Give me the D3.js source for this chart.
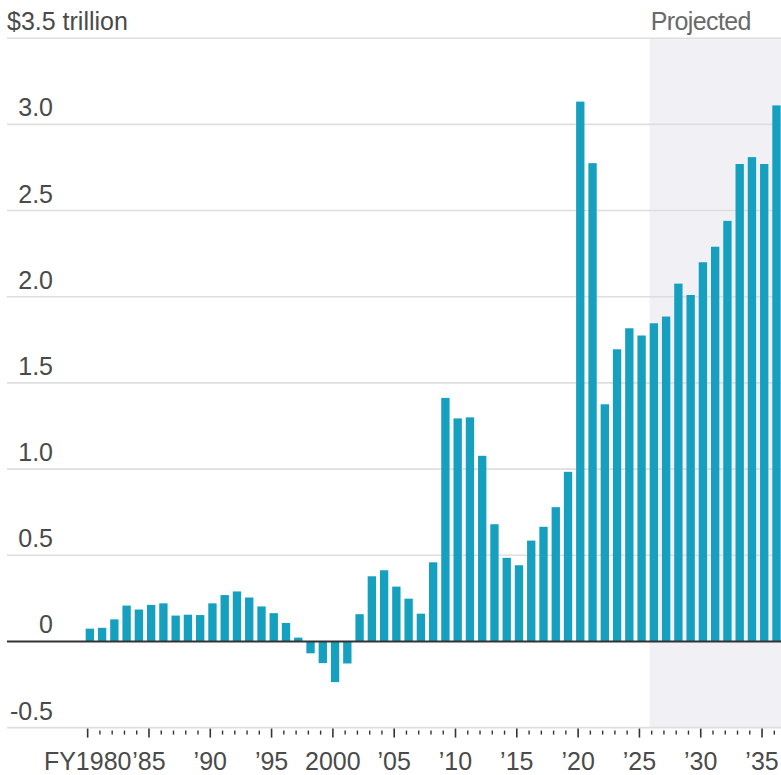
<!DOCTYPE html>
<html>
<head>
<meta charset="utf-8">
<script src="https://cdn.jsdelivr.net/npm/d3@7/dist/d3.min.js"></script>
<style>
  html, body { margin: 0; padding: 0; background: #fff; }
  svg { display: block; }
  text { font-family: "Liberation Sans", Arial, sans-serif; }
</style>
</head>
<body>
<svg id="chart" width="781" height="775"></svg>
<script>
// ---- Data (US federal budget deficit, $ trillion; negative = surplus) ----
const years = [1980,1981,1982,1983,1984,1985,1986,1987,1988,1989,
               1990,1991,1992,1993,1994,1995,1996,1997,1998,1999,
               2000,2001,2002,2003,2004,2005,2006,2007,2008,2009,
               2010,2011,2012,2013,2014,2015,2016,2017,2018,2019,
               2020,2021,2022,2023,2024,2025,2026,2027,2028,2029,
               2030,2031,2032,2033,2034,2035,2036];
const deficits = [0.074,0.079,0.128,0.208,0.185,0.212,0.221,0.150,0.155,0.153,
                  0.221,0.269,0.290,0.255,0.203,0.164,0.107,0.022,-0.069,-0.126,
                  -0.236,-0.128,0.158,0.378,0.413,0.318,0.248,0.161,0.459,1.413,
                  1.294,1.300,1.077,0.680,0.485,0.442,0.585,0.665,0.779,0.984,
                  3.132,2.775,1.376,1.695,1.817,1.775,1.846,1.885,2.076,2.010,
                  2.200,2.290,2.440,2.770,2.810,2.770,3.110];
const firstProjectedYear = 2026;
const yTickValues = [-0.5, 0, 0.5, 1.0, 1.5, 2.0, 2.5, 3.0];
const yTickLabels = ["-0.5", "0", "0.5", "1.0", "1.5", "2.0", "2.5", "3.0"];
const yTopValue = 3.5;
const yTopLabel = "$3.5 trillion";
const xMajorYears = [1980,1985,1990,1995,2000,2005,2010,2015,2020,2025,2030,2035];
const xMajorLabels = ["FY1980","\u201985","\u201990","\u201995","2000","\u201905","\u201910","\u201915","\u201920","\u201925","\u201930","\u201935"];
const projectedLabel = "Projected";

// ---- Layout ----
const svg = d3.select("#chart");
const W = 781;
const barColor = "#16a0bf";
const textColor = "#4a4a4a";

const x = d3.scaleBand()
  .domain(years)
  .range([83.7, 782.6])
  .paddingInner(0.32)
  .paddingOuter(0.16);

const y = d3.scaleLinear()
  .domain([-0.5, 3.5])
  .range([727.6, 38.2]);

const tickX = yr => x(yr) + 2;

// projected shading
svg.append("rect")
  .attr("x", x(firstProjectedYear))
  .attr("y", y(yTopValue) + 1)
  .attr("width", W - x(firstProjectedYear))
  .attr("height", y(-0.5) - y(yTopValue) - 1)
  .attr("fill", "#f0f0f5");

// gridlines (non-zero)
const gridVals = yTickValues.filter(v => v !== 0).concat([yTopValue]);
svg.append("g").selectAll("line")
  .data(gridVals)
  .join("line")
  .attr("x1", 7).attr("x2", W)
  .attr("y1", d => y(d)).attr("y2", d => y(d))
  .attr("stroke", "#dedede")
  .attr("stroke-width", 1.6);

// y labels
svg.append("g").selectAll("text")
  .data(yTickValues)
  .join("text")
  .attr("x", 53)
  .attr("y", d => y(d) - 8)
  .attr("text-anchor", "end")
  .attr("font-size", 25)
  .attr("fill", textColor)
  .text((d, i) => yTickLabels[i]);

svg.append("text")
  .attr("x", 7)
  .attr("y", y(yTopValue) - 8)
  .attr("font-size", 25)
  .attr("fill", textColor)
  .text(yTopLabel);

svg.append("text")
  .attr("x", x(firstProjectedYear) + 1)
  .attr("y", y(yTopValue) - 8)
  .attr("font-size", 25)
  .attr("letter-spacing", -0.6)
  .attr("fill", "#6a6a6a")
  .text(projectedLabel);

// bars
svg.append("g").selectAll("rect")
  .data(years.map((yr, i) => ({ yr, v: deficits[i] })))
  .join("rect")
  .attr("x", d => x(d.yr))
  .attr("width", x.bandwidth())
  .attr("y", d => y(Math.max(0, d.v)))
  .attr("height", d => Math.abs(y(d.v) - y(0)))
  .attr("fill", barColor);

// zero line
svg.append("line")
  .attr("x1", 7).attr("x2", W)
  .attr("y1", y(0)).attr("y2", y(0))
  .attr("stroke", "#333")
  .attr("stroke-width", 2);

// x ticks
const axisY = y(-0.5);
svg.append("g").selectAll("line")
  .data(years)
  .join("line")
  .attr("x1", d => tickX(d)).attr("x2", d => tickX(d))
  .attr("y1", d => xMajorYears.includes(d) ? axisY + 1 : axisY + 3)
  .attr("y2", d => xMajorYears.includes(d) ? axisY + 10 : axisY + 7)
  .attr("stroke", "#333")
  .attr("stroke-width", d => xMajorYears.includes(d) ? 1.6 : 1.4);

// x labels
svg.append("g").selectAll("text")
  .data(xMajorYears)
  .join("text")
  .attr("x", d => tickX(d))
  .attr("y", 770)
  .attr("text-anchor", "middle")
  .attr("font-size", 25)
  .attr("fill", textColor)
  .text((d, i) => xMajorLabels[i]);
</script>
</body>
</html>
